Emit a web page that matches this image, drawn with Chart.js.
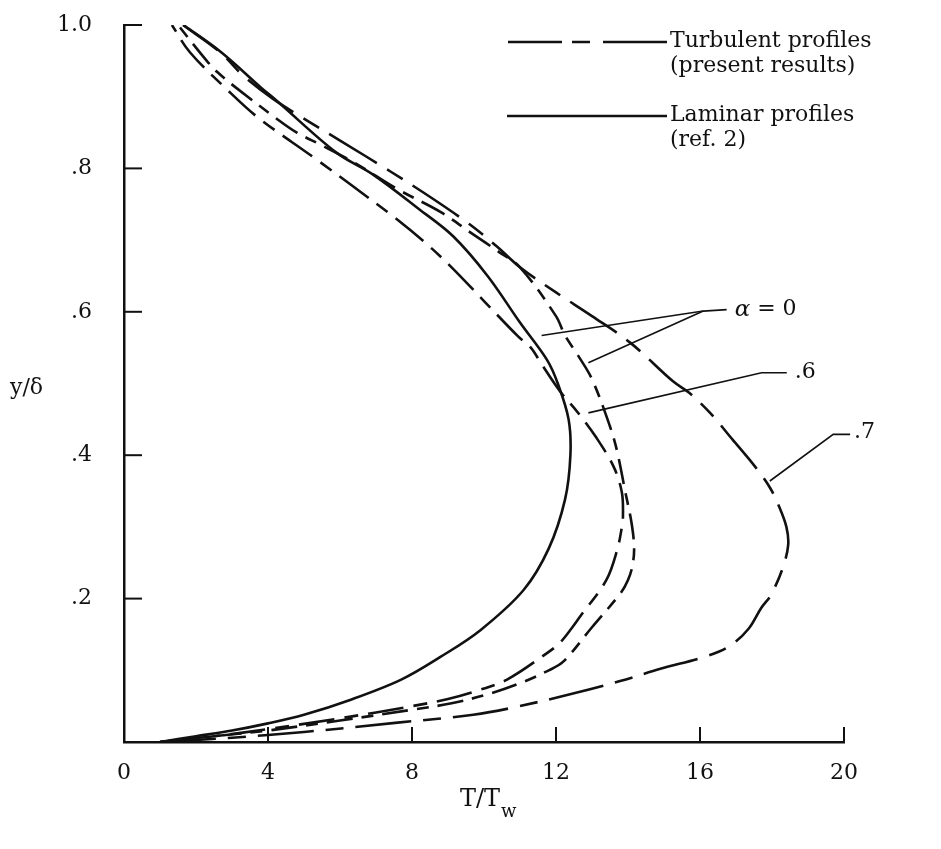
<!DOCTYPE html>
<html>
<head>
<meta charset="utf-8">
<script src="https://cdn.jsdelivr.net/npm/chart.js@4.4.1/dist/chart.umd.min.js"></script>
<style>
    html, body { margin: 0; padding: 0; background: #ffffff; }
    #wrap { width: 941px; height: 849px; }
</style>
</head>
<body>
<div id="wrap"><canvas id="chart" width="941" height="849"></canvas></div>
<script>
// Axis ticks
var TICKS_X = [0, 4, 8, 12, 16, 20];
var TICKS_Y = [0.2, 0.4, 0.6, 0.8, 1.0];
var Y_LABELS = { '0.2': '.2', '0.4': '.4', '0.6': '.6', '0.8': '.8', '1': '1.0' };

// Laminar profile, alpha = 0 (ref. 2) — T/Tw and y/delta, wall to edge
var lamA0_T = [1.0, 2.0, 3.0, 4.0, 5.0, 6.3, 7.7, 8.8, 9.9, 11.1, 11.8, 12.25, 12.4, 12.35, 12.05, 11.75, 11.0, 10.1, 9.15, 8.2, 6.9, 5.9, 4.25, 3.8, 2.7, 1.65];
var lamA0_Y = [0.0, 0.008, 0.016, 0.026, 0.038, 0.059, 0.087, 0.119, 0.156, 0.212, 0.27, 0.338, 0.40, 0.45, 0.50, 0.533, 0.585, 0.65, 0.705, 0.743, 0.792, 0.822, 0.894, 0.913, 0.962, 1.0];

// Turbulent profile, alpha = 0
var turbA0_T = [1.0, 2.5, 4.0, 6.0, 8.0, 9.1, 10.2, 11.1, 11.8, 12.2, 13.0, 13.8, 14.0, 14.12, 14.17, 14.1, 13.92, 13.7, 13.5, 13.0, 12.6, 12.25, 12.0, 11.0, 10.4, 9.7, 8.8, 7.6, 6.4, 5.5, 4.8, 4.25, 3.1, 2.6, 2.3, 1.5];
var turbA0_Y = [0.0, 0.008, 0.016, 0.030, 0.045, 0.054, 0.068, 0.084, 0.100, 0.112, 0.160, 0.208, 0.226, 0.245, 0.270, 0.305, 0.350, 0.405, 0.440, 0.506, 0.540, 0.567, 0.594, 0.662, 0.684, 0.708, 0.739, 0.771, 0.808, 0.832, 0.850, 0.869, 0.913, 0.934, 0.950, 1.0];

// Turbulent profile, alpha = .6
var turbA6_T = [1.0, 2.5, 4.0, 6.0, 8.0, 9.0, 9.9, 10.64, 11.75, 12.1, 12.44, 12.67, 13.4, 13.7, 13.83, 13.86, 13.83, 13.6, 13.1, 12.6, 12.1, 11.6, 11.3, 10.94, 10.0, 9.1, 8.42, 7.58, 6.36, 5.25, 3.72, 2.86, 1.83, 1.33];
var turbA6_Y = [0.0, 0.008, 0.018, 0.033, 0.05, 0.06, 0.073, 0.087, 0.124, 0.138, 0.159, 0.175, 0.226, 0.268, 0.30, 0.314, 0.348, 0.384, 0.426, 0.46, 0.49, 0.527, 0.55, 0.566, 0.615, 0.662, 0.694, 0.729, 0.775, 0.816, 0.871, 0.91, 0.962, 1.0];

// Turbulent profile, alpha = .7
var turbA7_T = [1.0, 3.0, 5.0, 7.6, 9.7, 10.9, 12.5, 13.78, 14.9, 16.2, 16.83, 17.35, 17.7, 17.97, 18.3, 18.45, 18.4, 18.2, 17.94, 17.53, 16.9, 16.28, 15.7, 15.25, 14.06, 13.0, 12.0, 11.0, 10.36, 9.6, 8.6, 7.39, 6.06, 5.11, 4.14, 3.3, 2.67, 1.64];
var turbA7_Y = [0.0, 0.006, 0.014, 0.027, 0.038, 0.049, 0.068, 0.085, 0.102, 0.12, 0.134, 0.158, 0.187, 0.205, 0.243, 0.275, 0.30, 0.328, 0.355, 0.384, 0.422, 0.459, 0.487, 0.503, 0.557, 0.594, 0.627, 0.662, 0.691, 0.722, 0.757, 0.796, 0.837, 0.866, 0.897, 0.93, 0.962, 1.0];

// Leader lines for the curve labels: [label end, elbow, target...] in T/Tw, y/delta
var leadA0_T = [16.74, 16.09, 11.60];
var leadA0_Y = [0.603, 0.601, 0.567];
var leadA0b_T = [16.09, 12.90];
var leadA0b_Y = [0.601, 0.529];
var leadA6_T = [18.41, 17.71, 12.90];
var leadA6_Y = [0.515, 0.515, 0.459];
var leadA7_T = [20.17, 19.70, 17.94];
var leadA7_Y = [0.429, 0.429, 0.364];

var SERIF = "'DejaVu Serif', 'Liberation Serif', serif";
var INK = '#111111';

function pairs(xs, ys) {
    return xs.map(function (x, i) { return { x: x, y: ys[i] }; });
}

function curve(label, xs, ys, dash) {
    return {
        label: label,
        data: pairs(xs, ys),
        borderColor: INK,
        borderWidth: 2.6,
        borderDash: dash,
        pointRadius: 0,
        tension: 0.35,
        fill: false
    };
}

function text(ctx, str, x, y, size, style) {
    ctx.font = (style || '') + ' ' + size + 'px ' + SERIF;
    ctx.fillText(str, x, y);
    return ctx.measureText(str).width;
}

// keep the plot frame fixed: no extra room for half-labels at the ends
function noEdgePadding(s) {
    s.paddingTop = 0;
    s.paddingBottom = 0;
    s.paddingLeft = 0;
    s.paddingRight = 0;
}

var paperDecor = {
    id: 'paperDecor',
    afterDraw: function (chart) {
        var ctx = chart.ctx;
        var xs = chart.scales.x;
        var ys = chart.scales.y;
        var area = chart.chartArea;
        ctx.save();
        ctx.strokeStyle = INK;
        ctx.fillStyle = INK;
        ctx.lineCap = 'butt';

        // inward tick marks
        ctx.lineWidth = 2;
        TICKS_X.slice(1).forEach(function (v) {
            var px = xs.getPixelForValue(v);
            ctx.beginPath();
            ctx.moveTo(px, area.bottom);
            ctx.lineTo(px, area.bottom - 15);
            ctx.stroke();
        });
        TICKS_Y.forEach(function (v) {
            var py = ys.getPixelForValue(v);
            ctx.beginPath();
            ctx.moveTo(area.left, py);
            ctx.lineTo(area.left + 18, py);
            ctx.stroke();
        });

        // leader lines
        ctx.lineWidth = 1.6;
        [[leadA0_T, leadA0_Y], [leadA0b_T, leadA0b_Y], [leadA6_T, leadA6_Y], [leadA7_T, leadA7_Y]].forEach(function (l) {
            ctx.beginPath();
            l[0].forEach(function (t, i) {
                var px = xs.getPixelForValue(t);
                var py = ys.getPixelForValue(l[1][i]);
                if (i === 0) { ctx.moveTo(px, py); } else { ctx.lineTo(px, py); }
            });
            ctx.stroke();
        });

        // curve labels
        ctx.textBaseline = 'middle';
        ctx.textAlign = 'left';
        var lx = xs.getPixelForValue(leadA0_T[0]) + 8;
        var ly = ys.getPixelForValue(leadA0_Y[0]);
        lx += text(ctx, '\u03b1', lx, ly, 23, 'italic');
        text(ctx, ' = 0', lx, ly, 22, '');
        text(ctx, '.6', xs.getPixelForValue(leadA6_T[0]) + 8, ys.getPixelForValue(leadA6_Y[0]), 22, '');
        text(ctx, '.7', xs.getPixelForValue(leadA7_T[0]) + 4, ys.getPixelForValue(leadA7_Y[0]) - 2, 22, '');

        // legend
        ctx.lineWidth = 2.6;
        ctx.setLineDash([54, 10, 18, 13, 64, 10]);
        ctx.beginPath();
        ctx.moveTo(508, 42);
        ctx.lineTo(667, 42);
        ctx.stroke();
        ctx.setLineDash([]);
        ctx.beginPath();
        ctx.moveTo(507, 116);
        ctx.lineTo(667, 116);
        ctx.stroke();
        text(ctx, 'Turbulent profiles', 670, 41, 22, '');
        text(ctx, '(present results)', 670, 66, 22, '');
        text(ctx, 'Laminar profiles', 670, 115, 22, '');
        text(ctx, '(ref. 2)', 670, 140, 22, '');

        // axis titles
        text(ctx, 'y/\u03b4', 10, 388, 22, '');
        ctx.textBaseline = 'alphabetic';
        var tx = 460;
        tx += text(ctx, 'T/T', tx, 806, 24, '');
        text(ctx, 'w', tx + 1, 817, 18, '');
        ctx.restore();
    }
};

new Chart(document.getElementById('chart').getContext('2d'), {
    type: 'line',
    data: {
        datasets: [
            curve('Laminar, \u03b1 = 0', lamA0_T, lamA0_Y, []),
            curve('Turbulent, \u03b1 = 0', turbA0_T, turbA0_Y, [26, 9, 12, 9]),
            curve('Turbulent, \u03b1 = .6', turbA6_T, turbA6_Y, [36, 10, 14, 10]),
            curve('Turbulent, \u03b1 = .7', turbA7_T, turbA7_Y, [56, 12, 18, 12])
        ]
    },
    options: {
        responsive: false,
        animation: false,
        events: [],
        layout: { padding: { top: 25, right: 97, left: 0, bottom: 0 } },
        plugins: {
            legend: { display: false },
            tooltip: { enabled: false }
        },
        scales: {
            x: {
                type: 'linear',
                min: 0,
                max: 20,
                afterBuildTicks: function (s) { s.ticks = TICKS_X.map(function (v) { return { value: v }; }); },
                afterFit: function (s) { s.height = 107; noEdgePadding(s); },
                grid: { display: false },
                border: { display: true, color: INK, width: 2.5 },
                ticks: {
                    color: INK,
                    padding: 10,
                    maxRotation: 0,
                    autoSkip: false,
                    font: { family: SERIF, size: 22 }
                }
            },
            y: {
                type: 'linear',
                min: 0,
                max: 1,
                afterBuildTicks: function (s) { s.ticks = TICKS_Y.map(function (v) { return { value: v }; }); },
                afterFit: function (s) { s.width = 124; noEdgePadding(s); },
                grid: { display: false },
                border: { display: true, color: INK, width: 2.5 },
                ticks: {
                    color: INK,
                    padding: 24,
                    autoSkip: false,
                    font: { family: SERIF, size: 22 },
                    callback: function (v) { return Y_LABELS[String(Math.round(v * 10) / 10)] || ''; }
                }
            }
        }
    },
    plugins: [paperDecor]
});
</script>
</body>
</html>
